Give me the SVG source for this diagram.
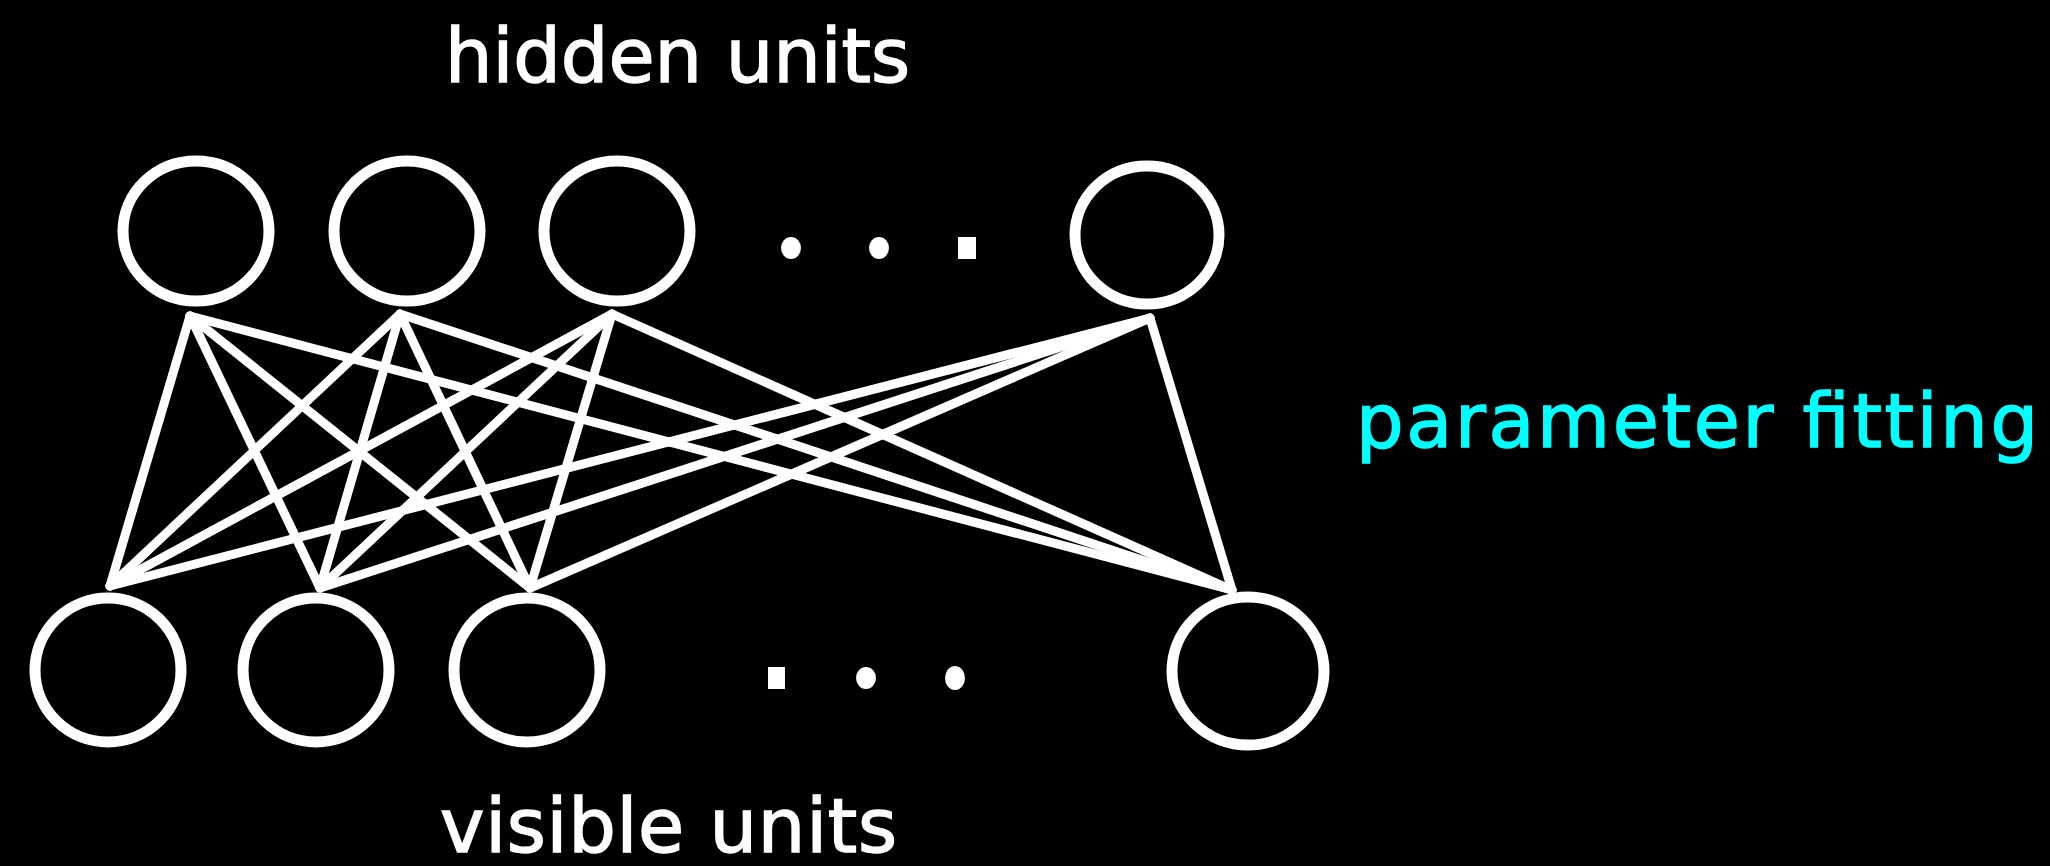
<svg xmlns="http://www.w3.org/2000/svg" width="2050" height="866" viewBox="0 0 2050 866">
  <style>
    .unit { fill: none; stroke: #ffffff; stroke-width: 11; }
    .link { stroke: #ffffff; stroke-width: 9; stroke-linecap: round; }
    .dot { fill: #ffffff; }
    .label { font-family: "DejaVu Sans", "Liberation Sans", sans-serif; font-size: 75px; fill: #ffffff; stroke: #ffffff; stroke-width: 1.5; }
    .note { font-family: "DejaVu Sans", "Liberation Sans", sans-serif; font-size: 75px; fill: #00ffff; stroke: #00ffff; stroke-width: 1.5; }
  </style>
  <rect x="0" y="0" width="2050" height="866" fill="#000000"/>

  <!-- full bipartite connections: every hidden unit to every visible unit -->
  <g id="connectors">
    <line class="link" x1="190" y1="316" x2="110" y2="586"/>
    <line class="link" x1="190" y1="316" x2="320" y2="588"/>
    <line class="link" x1="190" y1="316" x2="530" y2="588"/>
    <line class="link" x1="190" y1="316" x2="1232" y2="590"/>
    <line class="link" x1="400" y1="314" x2="110" y2="586"/>
    <line class="link" x1="400" y1="314" x2="320" y2="588"/>
    <line class="link" x1="400" y1="314" x2="530" y2="588"/>
    <line class="link" x1="400" y1="314" x2="1232" y2="590"/>
    <line class="link" x1="612" y1="314" x2="110" y2="586"/>
    <line class="link" x1="612" y1="314" x2="320" y2="588"/>
    <line class="link" x1="612" y1="314" x2="530" y2="588"/>
    <line class="link" x1="612" y1="314" x2="1232" y2="590"/>
    <line class="link" x1="1150" y1="318" x2="110" y2="586"/>
    <line class="link" x1="1150" y1="318" x2="320" y2="588"/>
    <line class="link" x1="1150" y1="318" x2="530" y2="588"/>
    <line class="link" x1="1150" y1="318" x2="1232" y2="590"/>
  </g>

  <!-- hidden layer -->
  <g id="hidden-1"><ellipse class="unit" cx="196" cy="231" rx="73" ry="70"/></g>
  <g id="hidden-2"><ellipse class="unit" cx="407" cy="231" rx="73" ry="70"/></g>
  <g id="hidden-3"><ellipse class="unit" cx="617" cy="231" rx="73" ry="70"/></g>
  <g id="hidden-4"><ellipse class="unit" cx="1147" cy="235" rx="72" ry="69"/></g>
  <g id="hidden-ellipsis">
    <ellipse class="dot" cx="791" cy="248" rx="10" ry="11"/>
    <ellipse class="dot" cx="879" cy="248" rx="10" ry="11"/>
    <rect class="dot" x="958" y="237" width="18" height="22"/>
  </g>

  <!-- visible layer -->
  <g id="visible-1"><ellipse class="unit" cx="108" cy="670" rx="73" ry="72"/></g>
  <g id="visible-2"><ellipse class="unit" cx="316" cy="670" rx="73" ry="72"/></g>
  <g id="visible-3"><ellipse class="unit" cx="527" cy="670" rx="73" ry="72"/></g>
  <g id="visible-4"><ellipse class="unit" cx="1248" cy="671" rx="76" ry="74"/></g>
  <g id="visible-ellipsis">
    <rect class="dot" x="768" y="667" width="17" height="22"/>
    <ellipse class="dot" cx="866" cy="678" rx="10" ry="11"/>
    <ellipse class="dot" cx="955" cy="678" rx="10" ry="12"/>
  </g>

  <!-- labels -->
  <text id="label-hidden" class="label" x="445" y="82" textLength="465" lengthAdjust="spacing">hidden units</text>
  <text id="label-visible" class="label" x="440" y="852" textLength="457" lengthAdjust="spacing">visible units</text>
  <text id="label-fitting" class="note" x="1356" y="447" textLength="682" lengthAdjust="spacing">parameter fitting</text>
</svg>
